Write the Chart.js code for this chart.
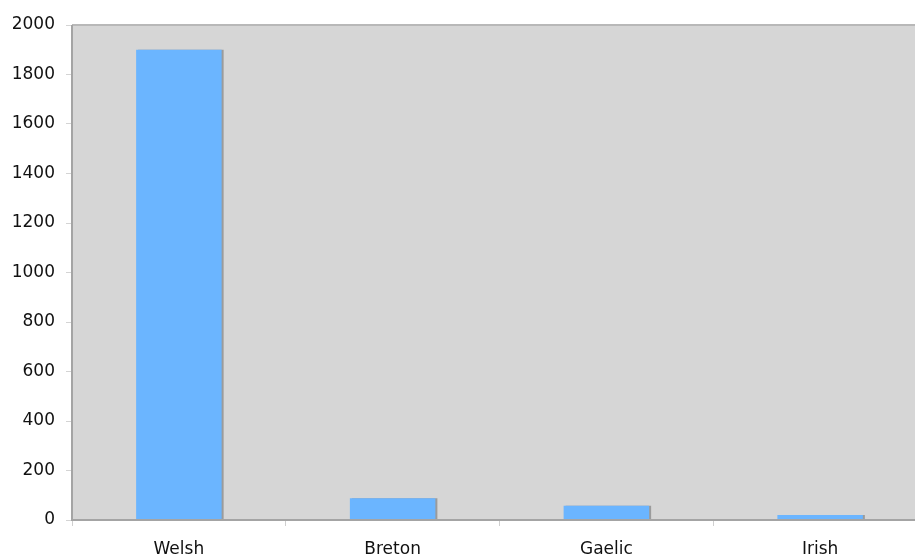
<!DOCTYPE html>
<html>
<head>
<meta charset="utf-8">
<script src="https://cdn.jsdelivr.net/npm/chart.js@4/dist/chart.umd.min.js"></script>
<style>
  html, body { margin: 0; padding: 0; background: #fff; overflow: hidden; }
  /* the plot area runs past the right edge of the picture, so it's cropped */
  #clip { width: 915px; height: 556px; overflow: hidden; }
  #wrap { width: 927px; height: 556px; }
</style>
</head>
<body>
<div id="clip"><div id="wrap"><canvas id="chart"></canvas></div></div>
<script>
const languages = ['Welsh', 'Breton', 'Gaelic', 'Irish'];
const speakers = [1900, 88, 58, 20];
const yTicks = [0, 200, 400, 600, 800, 1000, 1200, 1400, 1600, 1800, 2000];

// grey plot background + frame lines
const plotBackground = {
  id: 'plotBackground',
  beforeDraw(chart) {
    const { ctx, chartArea: a } = chart;
    ctx.save();
    ctx.fillStyle = '#d6d6d6';
    ctx.fillRect(a.left, a.top, a.right - a.left, a.bottom - a.top);
    ctx.strokeStyle = '#b8b8b8';
    ctx.lineWidth = 2;
    ctx.beginPath();
    ctx.moveTo(a.left, a.top);
    ctx.lineTo(a.right, a.top);
    ctx.stroke();
    ctx.restore();
  },
  afterDraw(chart) {
    const { ctx, chartArea: a } = chart;
    ctx.save();
    ctx.strokeStyle = '#a4a4a4';
    ctx.lineWidth = 2;
    ctx.beginPath();
    ctx.moveTo(a.left, a.top);
    ctx.lineTo(a.left, a.bottom);
    ctx.lineTo(a.right, a.bottom);
    ctx.stroke();
    ctx.restore();
  }
};

// hard grey shadow on the right of each bar
const barShadow = {
  id: 'barShadow',
  beforeDatasetDraw(chart) {
    const ctx = chart.ctx;
    ctx.save();
    ctx.shadowColor = 'rgba(140,140,140,0.8)';
    ctx.shadowOffsetX = 2;
    ctx.shadowOffsetY = 0;
    ctx.shadowBlur = 0;
  },
  afterDatasetDraw(chart) {
    chart.ctx.restore();
  }
};

new Chart(document.getElementById('chart').getContext('2d'), {
  type: 'bar',
  data: {
    labels: languages,
    datasets: [{
      data: speakers,
      backgroundColor: '#6bb5ff',
      borderWidth: 0,
      barPercentage: 0.4,
      categoryPercentage: 1
    }]
  },
  options: {
    responsive: true,
    maintainAspectRatio: false,
    animation: false,
    layout: { padding: { top: 25, right: 0, left: 0, bottom: 0 } },
    plugins: {
      legend: { display: false },
      tooltip: { enabled: false }
    },
    scales: {
      x: {
        offset: true,
        border: { display: false },
        grid: {
          offset: true,
          drawOnChartArea: false,
          drawTicks: true,
          tickLength: 6,
          color: '#cfcfcf'
        },
        ticks: {
          padding: 13,
          color: '#111',
          font: { family: 'DejaVu Sans', size: 17 }
        },
        afterFit(scale) { scale.height = 36; }
      },
      y: {
        min: 0,
        max: 2000,
        border: { display: false },
        grid: {
          drawOnChartArea: false,
          drawTicks: true,
          tickLength: 6,
          color: '#d4d4d4'
        },
        afterBuildTicks(scale) {
          scale.ticks = yTicks.map(v => ({ value: v }));
        },
        ticks: {
          padding: 11,
          color: '#111',
          font: { family: 'DejaVu Sans', size: 17 },
          callback: v => String(v)
        },
        afterFit(scale) { scale.width = 72; }
      }
    }
  },
  plugins: [plotBackground, barShadow]
});
</script>
</body>
</html>
